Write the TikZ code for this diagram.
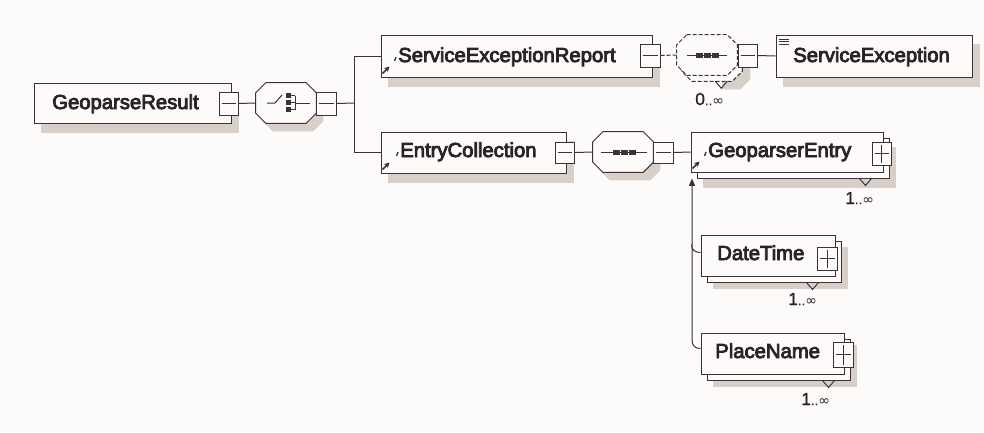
\documentclass[tikz,border=0pt]{standalone}
\usepackage{fontspec}
\setmainfont{Liberation Sans}
\newfontfamily\lblfont{Liberation Sans}[FakeBold=4]
\newfontfamily\mulfont{Liberation Sans}[FakeBold=1]
\newfontfamily\symfont{DejaVu Sans}
\usetikzlibrary{fit,arrows.meta,backgrounds}
\definecolor{bgc}{HTML}{FCFBFA}
\definecolor{inkc}{HTML}{3A3238}
\definecolor{txtc}{HTML}{2A2228}
\definecolor{shadc}{HTML}{D8D0C8}

% octagon outline around a (hidden) fit node: node, dx, dy, path options
\newcommand\octo[4]{%
  \path[#4] ([shift={({10+#2},{#3})}]#1.north west)
    -- ([shift={({-10+#2},{#3})}]#1.north east)
    -- ([shift={(#2,{10+#3})}]#1.north east)
    -- ([shift={(#2,{-10+#3})}]#1.south east)
    -- ([shift={({-10+#2},{#3})}]#1.south east)
    -- ([shift={({10+#2},{#3})}]#1.south west)
    -- ([shift={(#2,{-10+#3})}]#1.south west)
    -- ([shift={(#2,{10+#3})}]#1.north west) -- cycle;}
% box shadow behind a node
\newcommand\shad[1]{%
  \fill[shadc] ([shift={(7,9)}]#1.north west) rectangle ([shift={(7,9)}]#1.south east);}
% multiplicity notch under a stacked box
\newcommand\vmark[2]{%
  \draw[ln] ([shift={({#2-6},0)}]#1.south east) -- ++(6,7) -- ++(6,-7);}
% expand / collapse toggles
\newcommand\minusin[1]{%
  \draw[ln] ([shift={(3,0)}]#1.west) -- ([shift={(-3,0)}]#1.east);}
\newcommand\plusin[1]{%
  \draw[ln] ([shift={(3,0)}]#1.west) -- ([shift={(-3,0)}]#1.east);
  \draw[ln] ([shift={(0,3)}]#1.north) -- ([shift={(0,-3)}]#1.south);}
% reference marker in the lower left corner of an element box
\newcommand\refmark[2]{%
  \draw[ln,line width=1.1pt,-{Stealth[length=4pt,width=4.2pt]}] ([shift={(2,-4)}]#1.south west) -- ++(7,-7);
  \draw[ln,line width=1pt] ([shift={(-2,-5)}]#2.base west) -- ++(-1.5,4);}
\newcommand\mul[1]{#1{\fontsize{10}{10}\selectfont..}{\symfont\fontsize{10.5}{10}\selectfont ∞}}

\begin{document}
\begin{tikzpicture}[x=0.75pt,y=-0.75pt,
  ln/.style={draw=inkc,line width=0.75pt},
  frame/.style={fit={#1},inner sep=0pt,draw=inkc,line width=0.75pt,fill=bgc},
  hold/.style={fit={#1},inner sep=0pt},
  txt/.style={anchor=base west,inner sep=0pt,text=txtc,font=\lblfont\fontsize{15.2}{18}\selectfont},
  mult/.style={anchor=base west,inner sep=0pt,text=txtc,font=\mulfont\fontsize{13}{14}\selectfont},
  arr/.style={ln,-{Triangle[length=5.5pt,width=4.6pt]}}]

\useasboundingbox (0,0) rectangle (984,432);

% ---------- root element and choice ----------
\node[frame={(34,83) (231,123)}] (gr) {};
\node[txt] (grT) at (52,109) {GeoparseResult};
\node[frame={(219,92) (238,115)}] (grM) {};
\node[hold={(256,83) (316,123)}] (cho) {};
\octo{cho}{0}{0}{ln,fill=bgc}
\node[frame={(316,92) (336,115)}] (choM) {};
\coordinate (jn) at (354,103);

% choice glyph
\draw[ln] (267,103) -- (275,103) -- (282,95);
\foreach \yy in {93,100,107}
  \fill[inkc] (286,\yy) rectangle (291,\yy+5);
\draw[ln] (291,95.5) -- (295,95.5) (291,102.5) -- (295,102.5) (291,109.5) -- (295,109.5)
          (295,95.5) -- (295,109.5) (295,103) -- (310,103);

% ---------- ServiceExceptionReport branch ----------
\node[frame={(381,35) (652,77)}] (ser) {};
\node[txt] (serT) at (398,62) {ServiceExceptionReport};
\node[frame={(640,44) (660,67)}] (serM) {};
\node[hold={(682,41) (742,81)}] (sxoB) {};
\node[hold={(677,35) (737,75)}] (sxo) {};
\octo{sxoB}{0}{0}{ln,dashed,dash pattern=on 3pt off 1.5pt,fill=bgc}
\octo{sxo}{0}{0}{ln,dashed,dash pattern=on 3pt off 1.5pt,fill=bgc}
\node[frame={(738,44) (757,67)}] (sxoM) {};
\node[frame={(776,35) (972,77)}] (se) {};
\node[txt] (seT) at (793,62) {ServiceException};
\node[mult] (sxoL) at (695,105) {\mul{0}};

% sequence glyph (optional)
\draw[ln] (687,55) -- (727,55);
\foreach \xx in {696,704,712}
  \fill[inkc] (\xx,52.5) rectangle (\xx+7,57.5);

% simple-content marker
\foreach \yy in {39.5,42,44.5}
  \draw[inkc,line width=0.55pt] ([shift={(3,\yy-35)}]se.north west) -- ++(10,0);

% ---------- EntryCollection branch ----------
\node[frame={(381,132) (566,173)}] (ec) {};
\node[txt] (ecT) at (400,157) {EntryCollection};
\node[frame={(555,142) (574,163)}] (ecM) {};
\node[hold={(593,132) (653,172)}] (seq) {};
\octo{seq}{0}{0}{ln,fill=bgc}
\node[frame={(653,142) (673,163)}] (seqM) {};

% sequence glyph
\draw[ln] (601,152) -- (647,152);
\foreach \xx in {613,621,629}
  \fill[inkc] (\xx,149.5) rectangle (\xx+7,154.5);

% ---------- repeated children ----------
\node[frame={(697,138) (889,178)}] (geB) {};
\node[frame={(691,132) (883,172)}] (ge) {};
\node[txt] (geT) at (708,157) {GeoparserEntry};
\node[frame={(872,142) (891,165)}] (geP) {};
\node[mult] (geL) at (845,204) {\mul{1}};

\node[frame={(707,241) (841,282)}] (dtB) {};
\node[frame={(701,235) (835,276)}] (dt) {};
\node[txt] (dtT) at (717,260) {DateTime};
\node[frame={(817,247) (837,270)}] (dtP) {};
\node[mult] (dtL) at (788,305) {\mul{1}};

\node[frame={(707,339) (850,380)}] (pnB) {};
\node[frame={(701,333) (844,374)}] (pn) {};
\node[txt] (pnT) at (715,358) {PlaceName};
\node[frame={(833,342) (853,367)}] (pnP) {};
\node[mult] (pnL) at (801,405) {\mul{1}};

% toggles
\foreach \n in {grM,choM,serM,sxoM,ecM,seqM} {\minusin{\n}}
\foreach \n in {geP,dtP,pnP} {\plusin{\n}}

% notches
\vmark{sxoB}{-21}
\vmark{geB}{-24}
\vmark{dtB}{-29}
\vmark{pnB}{-22}

% reference markers
\refmark{ser}{serT}
\refmark{ec}{ecT}
\refmark{ge}{geT}

% ---------- connectors ----------
\draw[ln] (grM.east) -- (cho.west);
\draw[ln] (choM.east) -- (jn);
\draw[ln] (jn) |- (ser.west);
\draw[ln] (jn) |- (ec.west);
\draw[ln,dashed,dash pattern=on 3pt off 1.5pt] (serM.east) -- (sxo.west);
\draw[ln] (sxoM.east) -- (se.west);
\draw[ln] (ecM.east) -- (seq.west);
\draw[ln] (seqM.east) -- (ge.west);
\coordinate (up) at (692,340);
\draw[arr] ([shift={(0,-5)}]pn.west) .. controls +(-6,0) and +(0,5) .. (up) -- (up |- geB.south);
\draw[ln] ([shift={(0,-3)}]dt.west) .. controls +(-6,0) and +(0,5) .. ++(-9,-8);

% ---------- page and shadows ----------
\begin{scope}[on background layer]
  \fill[bgc] (0,0) rectangle (984,432);
  \shad{gr}
  \shad{ser}
  \shad{se}
  \shad{ec}
  \fill[shadc] ([shift={(6,9)}]geB.north west) rectangle ([shift={(6,9)}]geB.south east);
  \fill[shadc] ([shift={(6,6)}]dtB.north west) rectangle ([shift={(6,6)}]dtB.south east);
  \fill[shadc] ([shift={(6,6)}]pnB.north west) rectangle ([shift={(6,6)}]pnB.south east);
  \octo{cho}{7}{8}{fill=shadc}
  \octo{seq}{7}{8}{fill=shadc}
  \begin{scope}
    \clip (722,0) rectangle (984,432);
    \octo{sxoB}{8}{8}{fill=shadc}
  \end{scope}
\end{scope}
\end{tikzpicture}
\end{document}
